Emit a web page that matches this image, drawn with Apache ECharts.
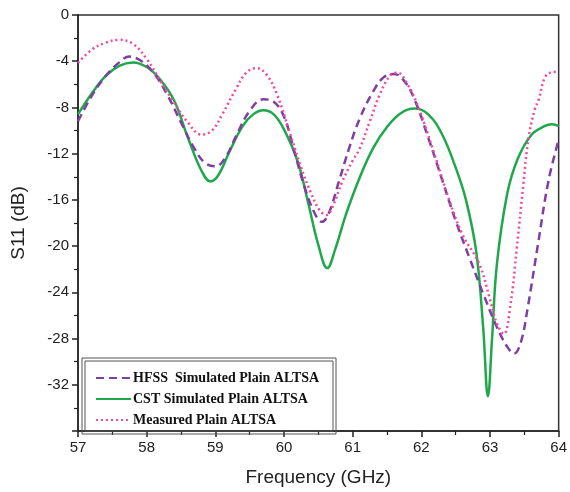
<!DOCTYPE html>
<html>
<head>
<meta charset="utf-8">
<script src="https://cdn.jsdelivr.net/npm/echarts@6/dist/echarts.min.js"></script>
<style>html,body{margin:0;padding:0;background:#fff}#c{width:570px;height:492px}</style>
</head>
<body>
<div id="c"></div>
<script>
var seriesNames = ['HFSS  Simulated Plain ALTSA', 'CST Simulated Plain ALTSA', 'Measured Plain ALTSA'];
var xTicks = [57, 58, 59, 60, 61, 62, 63, 64];
var yTicks = [0, -4, -8, -12, -16, -20, -24, -28, -32, -36];

var hfssFreq = [57.0,57.2,57.4,57.6,57.75,57.9,58.1,58.3,58.5,58.7,58.85,59.0,59.15,59.3,59.5,59.7,59.85,60.0,60.15,60.3,60.45,60.55,60.65,60.8,60.95,61.1,61.3,61.45,61.6,61.75,61.9,62.1,62.3,62.5,62.7,62.9,63.1,63.25,63.35,63.45,63.55,63.7,63.85,64.0];
var hfssS11 = [-9.2,-7.0,-5.3,-4.1,-3.6,-3.9,-5.0,-6.9,-9.3,-11.6,-12.8,-13.1,-12.3,-10.5,-8.3,-7.3,-7.5,-8.8,-11.8,-14.9,-17.2,-17.9,-17.2,-14.4,-11.5,-9.0,-6.6,-5.4,-5.1,-5.7,-7.3,-10.6,-14.2,-17.8,-21.0,-24.1,-27.0,-28.7,-29.3,-28.3,-25.3,-19.8,-14.4,-10.8];

var cstFreq = [57.0,57.2,57.4,57.6,57.8,58.0,58.2,58.4,58.6,58.8,58.93,59.05,59.2,59.4,59.55,59.7,59.85,60.0,60.2,60.35,60.5,60.63,60.75,60.9,61.1,61.3,61.5,61.7,61.9,62.1,62.3,62.5,62.65,62.8,62.9,62.97,63.03,63.1,63.25,63.4,63.6,63.8,63.9,64.0];
var cstS11 = [-8.6,-6.8,-5.3,-4.4,-4.1,-4.5,-5.6,-7.4,-10.6,-13.5,-14.4,-13.8,-11.9,-9.6,-8.6,-8.25,-8.6,-9.9,-12.7,-16.2,-19.9,-21.9,-20.2,-17.3,-14.1,-11.5,-9.7,-8.5,-8.1,-8.6,-10.3,-13.2,-16.0,-20.5,-27.0,-33.0,-28.0,-21.6,-15.5,-12.5,-10.4,-9.6,-9.45,-9.6];

var measFreq = [57.0,57.2,57.4,57.6,57.8,58.0,58.2,58.4,58.6,58.8,58.95,59.1,59.3,59.45,59.6,59.75,59.9,60.08,60.25,60.4,60.52,60.62,60.7,60.85,61.0,61.1,61.25,61.4,61.55,61.65,61.8,61.97,62.2,62.4,62.6,62.84,63.0,63.1,63.2,63.3,63.39,63.48,63.56,63.65,63.71,63.8,63.9,64.0];
var measS11 = [-4.15,-3.0,-2.4,-2.15,-2.5,-3.8,-5.7,-7.6,-9.3,-10.35,-10.0,-8.6,-6.4,-5.0,-4.6,-5.2,-6.9,-10.1,-13.2,-15.5,-16.9,-17.3,-16.7,-14.4,-12.6,-11.6,-9.2,-6.8,-5.2,-5.0,-6.0,-8.2,-12.2,-15.9,-19.0,-21.5,-24.6,-26.7,-27.6,-25.0,-20.2,-15.0,-10.7,-8.2,-7.3,-5.4,-4.95,-4.9];

function pairs(xs, ys) { return xs.map(function (x, i) { return [x, ys[i]]; }); }

var chart = echarts.init(document.getElementById('c'), null, {renderer: 'canvas'});
var axisLabelStyle = {fontFamily: 'Liberation Sans, Arial, sans-serif', fontSize: 15, color: '#222'};
chart.setOption({
  animation: false,
  backgroundColor: '#fff',
  grid: {left: 78, right: 9, top: 15, bottom: 58, show: true, borderColor: '#333', borderWidth: 1.5, containLabel: false},
  xAxis: {
    type: 'value', min: xTicks[0], max: xTicks[xTicks.length - 1], interval: 1,
    name: 'Frequency (GHz)', nameLocation: 'middle', nameGap: 37,
    nameTextStyle: {fontFamily: 'Liberation Sans, Arial, sans-serif', fontSize: 19, color: '#222'},
    axisLine: {show: true, onZero: false, lineStyle: {color: '#222', width: 1.5}},
    axisTick: {show: true, inside: false, length: 6, lineStyle: {color: '#222', width: 1.5}},
    minorTick: {show: true, splitNumber: 2, length: 4, lineStyle: {color: '#222', width: 1.2}},
    axisLabel: Object.assign({margin: 9}, axisLabelStyle),
    splitLine: {show: false}
  },
  yAxis: {
    type: 'value', min: yTicks[yTicks.length - 1], max: yTicks[0], interval: 4,
    name: 'S11 (dB)', nameLocation: 'middle', nameGap: 50, nameRotate: 90,
    nameTextStyle: {fontFamily: 'Liberation Sans, Arial, sans-serif', fontSize: 19, color: '#222'},
    axisLine: {show: true, onZero: false, lineStyle: {color: '#222', width: 1.5}},
    axisTick: {show: true, inside: false, length: 6, lineStyle: {color: '#222', width: 1.5}},
    minorTick: {show: true, splitNumber: 2, length: 4, lineStyle: {color: '#222', width: 1.2}},
    axisLabel: Object.assign({margin: 9, formatter: function (v) { return v === -36 ? '' : String(v); }}, axisLabelStyle),
    splitLine: {show: false}
  },
  legend: {
    orient: 'vertical', left: 95, top: 371, padding: 0, itemGap: 7, itemWidth: 35, itemHeight: 12,
    itemStyle: {opacity: 0},
    textStyle: {fontFamily: 'Liberation Serif, Times New Roman, serif', fontWeight: 'bold', fontSize: 14, color: '#111', padding: [0, 0, 0, -3]},
    data: seriesNames
  },
  graphic: [
    {type: 'rect', shape: {x: 82, y: 358, width: 254, height: 76}, style: {fill: 'none', stroke: '#555', lineWidth: 1}, z: 100},
    {type: 'rect', shape: {x: 85, y: 361, width: 248, height: 70}, style: {fill: 'none', stroke: '#555', lineWidth: 1}, z: 100}
  ],
  series: [
    {name: seriesNames[0], type: 'line', data: pairs(hfssFreq, hfssS11), smooth: 0.4, symbol: 'none', z: 3,
     lineStyle: {color: '#7E3FA3', width: 2.5, type: [8, 5]}, itemStyle: {color: '#7E3FA3'}},
    {name: seriesNames[1], type: 'line', data: pairs(cstFreq, cstS11), smooth: 0.4, symbol: 'none', z: 2,
     lineStyle: {color: '#1EA84B', width: 2.5, type: 'solid'}, itemStyle: {color: '#1EA84B'}},
    {name: seriesNames[2], type: 'line', data: pairs(measFreq, measS11), smooth: 0.4, symbol: 'none', z: 4,
     lineStyle: {color: '#EE4A9E', width: 2.5, type: [2, 3]}, itemStyle: {color: '#EE4A9E'}}
  ]
});
</script>
</body>
</html>
